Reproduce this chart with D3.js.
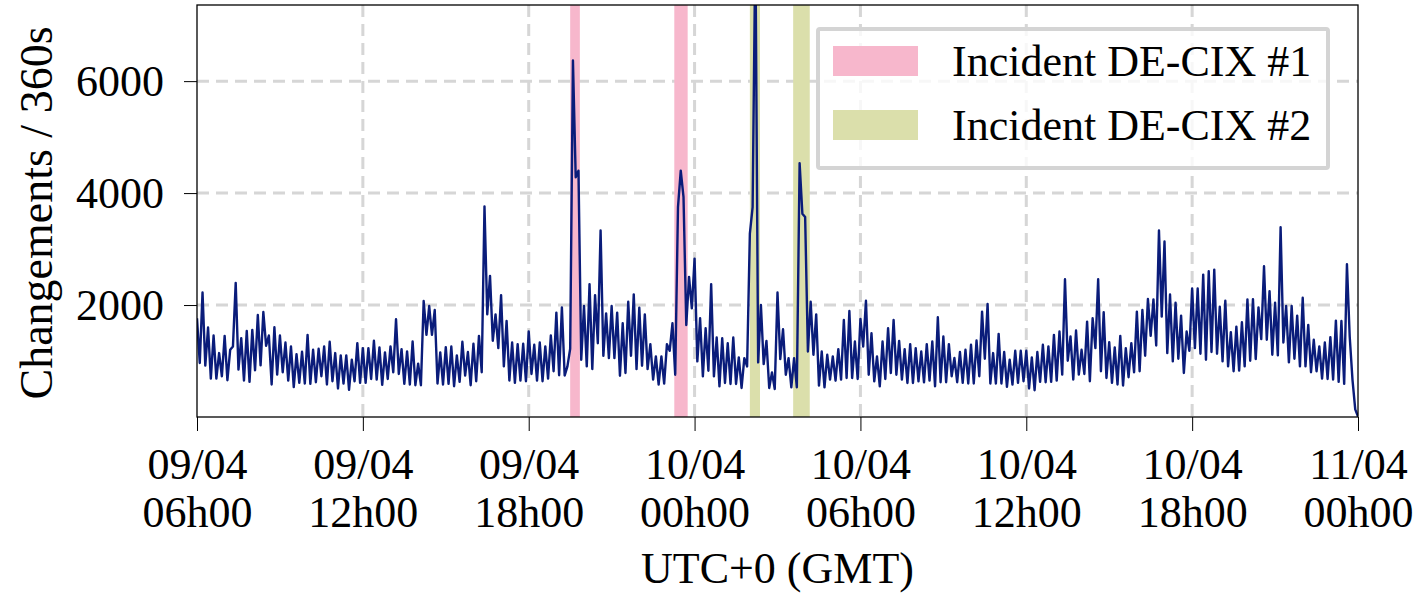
<!DOCTYPE html>
<html>
<head>
<meta charset="utf-8">
<script src="https://cdn.jsdelivr.net/npm/d3@7"></script>
<style>
  html, body { margin: 0; padding: 0; background: #fff; }
  svg text { font-family: 'Liberation Serif', 'DejaVu Serif', serif; fill: #000; }
</style>
</head>
<body>
<svg id="chart"></svg>
<script>
const width = 1422
const height = 594
const margin = { top: 5, right: 64, bottom: 177, left: 197 }

// --------------------------------------------------------------
// Data (one sample every 360 s, from 09/04 06h00 UTC)

const startTime = '2018-04-09T06:00:00Z'
const endTime = '2018-04-11T00:00:00Z'
const stepSeconds = 360

const changes = [
  // 09/04 06h00 -> ~12h50
  1763, 964, 2225, 917, 1598, 686, 1456, 686, 1142, 728, 1450, 657, 1201, 1260, 2396, 846,
  1408, 651, 1538, 627, 1556, 834, 1822, 923, 1876, 1272, 1456, 580, 1604, 757, 1456, 799,
  1331, 651, 1260, 533, 1124, 609, 1166, 598, 1467, 592, 1201, 621, 1219, 728, 1260, 580,
  1343, 639, 1142, 509, 1101, 598, 1101, 485, 1024, 639, 1320, 609, 1231, 609, 1231, 680,
  1361, 669, 1243, 574, 1154, 680, 1260,
  // ~13h00 -> ~19h30
  799, 1746, 769, 1213, 592, 1172, 580, 1349, 568, 953, 568, 2071, 1467, 1982, 1467, 1911,
  598, 1154, 580, 1249, 592, 1260, 550, 1101, 627, 1343, 740, 1160, 568, 1308, 639, 1450,
  799, 3763, 1834, 2521, 1361, 1834, 1231, 2177, 905, 1716, 651, 1331, 609, 1302, 651, 1308,
  639, 1527, 769, 1290, 651, 1331, 639, 1260, 686, 1456, 817, 1864, 746, 1959, 740, 904,
  1219,
  // ~19h36 -> 10/04 ~02h12
  6368, 4282, 4400, 1022, 1982, 904, 2374, 856, 2178, 1318, 3333, 1093, 1852, 1052, 1982, 1052,
  1864, 737, 1674, 785, 2059, 1093, 2190, 856, 1953, 916, 1834, 856, 1301, 667, 1081, 578,
  1081, 596, 1301, 1182, 1674, 756, 3748, 4400, 3926, 1644, 2504, 1941, 2830, 993, 1763, 726,
  1585, 826, 2374, 726, 1419, 548, 1407, 607, 1318, 590, 1419, 590, 1064, 519, 1052, 904,
  3274, 3748, 8500,
  // ~02h18 -> ~08h48
  975, 2000, 945, 1360, 519, 797, 501, 2225, 1034, 1567, 756, 1052, 530, 1052, 530, 4536,
  3630, 3571, 1170, 2059, 1111, 1834, 560, 1170, 530, 1111, 667, 1081, 649, 1212, 667, 1733,
  696, 1893, 696, 1348, 679, 1751, 1259, 2077, 756, 1496, 637, 1081, 548, 1348, 679, 1585,
  785, 1733, 756, 1360, 667, 1212, 607, 1301, 607, 1230, 637, 1170, 619, 1301, 649, 1348,
  548, 1781,
  // ~08h54 -> ~15h36
  621, 1438, 621, 1302, 728, 1053, 621, 1160, 609, 1201, 598, 1290, 598, 1367, 728, 1882,
  1041, 2018, 598, 1142, 598, 1485, 598, 1160, 538, 1024, 580, 1183, 609, 1183, 639, 1183,
  509, 1065, 479, 1160, 627, 1290, 621, 1260, 627, 1467, 651, 1527, 757, 2461, 1006, 1438,
  669, 1544, 757, 1201, 769, 1704, 639, 1763, 1231, 2461, 817, 1870, 698, 1337, 609, 1243,
  580, 1450, 562, 1231,
  // ~15h42 -> 11/04 00h00
  710, 1320, 799, 1882, 817, 1911, 1095, 2107, 1450, 2101, 1278, 3331, 1793, 3136, 1142, 2189,
  994, 2041, 1041, 1811, 787, 1527, 1183, 2296, 1231, 2296, 1130, 2544, 1024, 2603, 1160, 2633,
  1130, 1970, 994, 2077, 905, 1515, 817, 1615, 828, 1692, 905, 2101, 1006, 2106, 1035, 1959,
  1391, 2692, 1379, 2248, 1112, 2041, 1101, 3390, 1331, 1982, 976, 1982, 1041, 1811, 905, 2130,
  905, 1645, 799, 1379, 817, 1260, 686, 1331, 680, 1426, 669, 1722, 627, 1716, 592, 2728,
  1438, 669, 136, 10,
]

const incidentLabels = ['Incident DE-CIX #1', 'Incident DE-CIX #2']
const incidentColors = ['#f7b7cc', '#dbdfab']
const incident1 = [
  ['2018-04-09T19:30:00Z', '2018-04-09T19:51:00Z'],
  ['2018-04-09T23:16:00Z', '2018-04-09T23:45:00Z'],
]
const incident2 = [
  ['2018-04-10T02:00:00Z', '2018-04-10T02:22:00Z'],
  ['2018-04-10T03:34:00Z', '2018-04-10T04:10:00Z'],
]
const yTicks = [2000, 4000, 6000]
const yMax = 7360

// --------------------------------------------------------------
// Setup

const svg = d3.select('#chart').attr('width', width).attr('height', height)

const t0 = new Date(startTime)
const series = changes.map((v, i) => ({
  date: new Date(t0.getTime() + i * stepSeconds * 1000),
  value: v,
}))

const x = d3
  .scaleUtc()
  .domain([t0, new Date(endTime)])
  .range([margin.left, width - margin.right])

const y = d3
  .scaleLinear()
  .domain([0, yMax])
  .range([height - margin.bottom, margin.top])

const plotW = width - margin.left - margin.right
const plotH = height - margin.top - margin.bottom

svg
  .append('defs')
  .append('clipPath')
  .attr('id', 'plotClip')
  .append('rect')
  .attr('x', margin.left)
  .attr('y', margin.top)
  .attr('width', plotW)
  .attr('height', plotH)

const xTicks = x.ticks(d3.utcHour.every(6))

// --------------------------------------------------------------
// Grid

const grid = svg.append('g').attr('class', 'grid')

grid
  .selectAll('line.v')
  .data(xTicks.slice(1, -1))
  .join('line')
  .attr('class', 'v')
  .attr('x1', (d) => x(d))
  .attr('x2', (d) => x(d))
  .attr('y1', margin.top)
  .attr('y2', height - margin.bottom)

grid
  .selectAll('line.h')
  .data(yTicks)
  .join('line')
  .attr('class', 'h')
  .attr('x1', margin.left)
  .attr('x2', width - margin.right)
  .attr('y1', (d) => y(d))
  .attr('y2', (d) => y(d))

grid
  .selectAll('line')
  .attr('stroke', '#d6d6d6')
  .attr('stroke-width', 3)
  .attr('stroke-dasharray', '12,7')

// --------------------------------------------------------------
// Incident bands

const bands = svg.append('g').attr('clip-path', 'url(#plotClip)')
;[incident1, incident2].forEach((spans, k) => {
  bands
    .append('g')
    .selectAll('rect')
    .data(spans)
    .join('rect')
    .attr('x', (d) => x(new Date(d[0])))
    .attr('width', (d) => x(new Date(d[1])) - x(new Date(d[0])))
    .attr('y', margin.top)
    .attr('height', plotH)
    .attr('fill', incidentColors[k])
})

// --------------------------------------------------------------
// Line

const line = d3
  .line()
  .x((d) => x(d.date))
  .y((d) => y(d.value))

svg
  .append('path')
  .datum(series)
  .attr('clip-path', 'url(#plotClip)')
  .attr('d', line)
  .attr('fill', 'none')
  .attr('stroke', '#0a1c7a')
  .attr('stroke-width', 2.4)
  .attr('stroke-linejoin', 'round')

// --------------------------------------------------------------
// Axes

const fmtDay = d3.utcFormat('%d/%m')
const fmtHour = d3.utcFormat('%Hh%M')

const xAxis = svg
  .append('g')
  .attr('transform', `translate(0,${height - margin.bottom})`)
  .call(d3.axisBottom(x).tickValues(xTicks).tickSize(14))

xAxis.select('.domain').remove()
xAxis.selectAll('.tick line').attr('stroke', '#000').attr('stroke-width', 1)
xAxis.attr('font-size', 44)
xAxis.selectAll('.tick text').each(function (d) {
  const t = d3.select(this)
  t.text(null).attr('y', null).attr('dy', null)
  t.append('tspan').attr('x', 0).attr('y', 62).text(fmtDay(d))
  t.append('tspan').attr('x', 0).attr('y', 110).text(fmtHour(d))
})

const yAxis = svg
  .append('g')
  .attr('transform', `translate(${margin.left},0)`)
  .call(d3.axisLeft(y).tickValues(yTicks).tickSize(13).tickPadding(20).tickFormat(d3.format('d')))

yAxis.select('.domain').remove()
yAxis.attr('font-size', 44)

// plot frame
svg
  .append('rect')
  .attr('x', margin.left)
  .attr('y', margin.top)
  .attr('width', plotW)
  .attr('height', plotH)
  .attr('fill', 'none')
  .attr('stroke', '#000')
  .attr('stroke-width', 1.3)

// axis titles
svg
  .append('text')
  .attr('transform', `translate(52,${margin.top + plotH / 2 + 2}) rotate(-90)`)
  .attr('text-anchor', 'middle')
  .attr('font-size', 46)
  .text('Changements / 360s')

svg
  .append('text')
  .attr('x', margin.left + plotW / 2)
  .attr('y', 583)
  .attr('text-anchor', 'middle')
  .attr('font-size', 44)
  .text('UTC+0 (GMT)')

// --------------------------------------------------------------
// Legend

const legend = svg.append('g').attr('class', 'legend')

legend
  .append('rect')
  .attr('x', 818)
  .attr('y', 29)
  .attr('width', 510)
  .attr('height', 139)
  .attr('rx', 2)
  .attr('fill', '#fff')
  .attr('fill-opacity', 0.8)
  .attr('stroke', '#d4d4d4')
  .attr('stroke-width', 4)

const items = legend
  .selectAll('g.item')
  .data(incidentLabels)
  .join('g')
  .attr('class', 'item')
  .attr('transform', (d, i) => `translate(0,${i * 64})`)

items
  .append('rect')
  .attr('x', 833)
  .attr('y', 46)
  .attr('width', 85)
  .attr('height', 30)
  .attr('fill', (d, i) => incidentColors[i])

items
  .append('text')
  .attr('x', 952)
  .attr('y', 76)
  .attr('font-size', 44)
  .text((d) => d)
</script>
</body>
</html>
